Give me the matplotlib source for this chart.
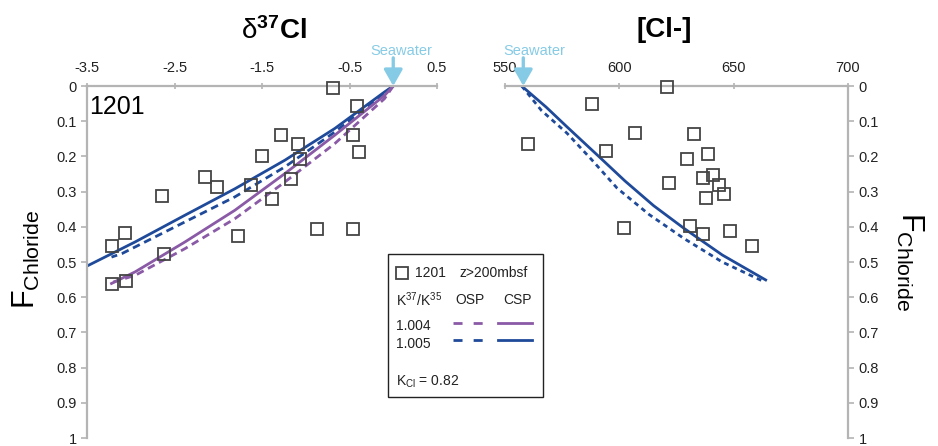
import matplotlib
matplotlib.use('Agg')
import matplotlib.pyplot as plt
from matplotlib.lines import Line2D
from matplotlib.patches import Rectangle

plt.rcParams['font.family'] = ['Liberation Sans', 'DejaVu Sans']
plt.rcParams['mathtext.fontset'] = 'custom'
plt.rcParams['mathtext.rm'] = 'Liberation Sans'
plt.rcParams['mathtext.bf'] = 'Liberation Sans:bold'
plt.rcParams['mathtext.it'] = 'Liberation Sans:italic'
plt.rcParams['axes.unicode_minus'] = False
plt.rcParams['lines.scale_dashes'] = False

# site 1201 pore water samples, z > 200 mbsf
d37cl = [-0.69, -0.41, -0.46, -0.39, -1.28, -1.09, -1.50, -1.07, -2.15, -2.01, -1.63,
         -1.17, -1.39, -2.64, -0.87, -0.46, -1.77, -3.07, -3.22, -2.62, -3.22, -3.06]
f_d37 = [0.006, 0.057, 0.138, 0.188, 0.138, 0.164, 0.199, 0.208, 0.259, 0.287, 0.282,
         0.263, 0.32, 0.313, 0.405, 0.405, 0.426, 0.417, 0.455, 0.478, 0.562, 0.555]

cl = [621.0, 588.2, 560.1, 594.3, 607.0, 632.5, 638.6, 629.8, 621.9, 636.8, 640.8,
      643.4, 645.6, 637.7, 602.2, 631.1, 636.8, 648.2, 657.9]
f_cl = [0.003, 0.051, 0.165, 0.184, 0.133, 0.136, 0.193, 0.208, 0.275, 0.262, 0.253,
        0.281, 0.307, 0.318, 0.404, 0.398, 0.42, 0.411, 0.454]

# model curves
csp5_x = [0, -0.10, -0.67, -1.24, -1.81, -2.38, -2.95, -3.52]
csp5_f = [0, 0.017, 0.121, 0.211, 0.292, 0.367, 0.443, 0.514]
osp5_x = [0, -0.10, -0.67, -1.24, -1.81, -2.38, -3.10, -3.22]
osp5_f = [0, 0.020, 0.131, 0.230, 0.315, 0.386, 0.476, 0.486]
csp4_x = [0, -0.10, -0.67, -1.24, -1.81, -2.38, -2.95, -3.22]
csp4_f = [0, 0.027, 0.140, 0.249, 0.353, 0.443, 0.528, 0.561]
osp4_x = [0, -0.10, -0.67, -1.24, -1.81, -2.38, -2.95, -3.20]
osp4_f = [0, 0.036, 0.164, 0.273, 0.377, 0.462, 0.538, 0.557]

csp_cl = [557.3, 568.0, 577.1, 591.0, 602.5, 615.0, 628.2, 645.0, 664.0]
csp_cl_f = [0, 0.06, 0.116, 0.20, 0.27, 0.34, 0.404, 0.48, 0.551]
osp_cl = [557.3, 566.0, 577.1, 588.0, 599.0, 613.0, 628.2, 645.0, 663.3]
osp_cl_f = [0, 0.07, 0.134, 0.21, 0.29, 0.365, 0.433, 0.50, 0.556]

seawater_d37 = 0.0
seawater_cl = 558.0

blue = '#1f4a9a'
purple = '#8a5aa6'
sky = '#86cbe6'
grey = '#b4b4b4'

W, H = 938, 446
fig = plt.figure(figsize=(W / 100, H / 100), dpi=100)
ax1 = fig.add_axes([87 / W, 1 - 438 / H, 350 / W, 352 / H])
ax2 = fig.add_axes([505 / W, 1 - 438 / H, 343 / W, 352 / H])

yt = [i / 10 for i in range(11)]
ylab = ['0', '0.1', '0.2', '0.3', '0.4', '0.5', '0.6', '0.7', '0.8', '0.9', '1']

for ax in (ax1, ax2):
    ax.set_ylim(1, 0)
    ax.set_yticks(yt)
    ax.set_yticklabels(ylab)
    ax.xaxis.tick_top()
    ax.spines['bottom'].set_visible(False)
    for s in ax.spines.values():
        s.set_color(grey)
        s.set_linewidth(1.6)
    ax.tick_params(axis='both', colors=grey, labelcolor='#222222', labelsize=10.5,
                   width=1.2, length=4)
    ax.tick_params(axis='x', direction='inout', pad=6)

ax1.spines['right'].set_visible(False)
ax2.spines['left'].set_visible(False)
ax2.yaxis.tick_right()

ax1.set_xlim(-3.5, 0.5)
ax1.set_xticks([-3.5, -2.5, -1.5, -0.5, 0.5])
ax1.set_xticklabels(['-3.5', '-2.5', '-1.5', '-0.5', '0.5'])
ax2.set_xlim(550, 700)
ax2.set_xticks([550, 600, 650, 700])

mk = dict(ls='none', marker='s', ms=8.5, mfc='none', mec='#444444', mew=1.3, clip_on=False, zorder=3)
ax1.plot(d37cl, f_d37, **mk)
ax2.plot(cl, f_cl, **mk)

ax1.plot(csp5_x, csp5_f, color=blue, lw=2)
ax1.plot(osp5_x, osp5_f, color=blue, lw=2, dashes=(5.5, 3.5))
ax1.plot(csp4_x, csp4_f, color=purple, lw=2)
ax1.plot(osp4_x, osp4_f, color=purple, lw=2, dashes=(5.5, 3.5))

ax2.plot(csp_cl, csp_cl_f, color=blue, lw=2)
ax2.plot(osp_cl, osp_cl_f, color=blue, lw=2, dashes=(3.5, 3))

arrow = dict(arrowstyle='-|>,head_length=0.7,head_width=0.4', color=sky, lw=2.4,
             shrinkA=0, shrinkB=0, mutation_scale=14)
ax1.annotate('', xy=(seawater_d37, 0), xytext=(seawater_d37, -0.08),
             arrowprops=arrow, annotation_clip=False)
ax1.text(seawater_d37 + 0.09, -0.099, 'Seawater', color=sky, fontsize=10.5,
         ha='center', va='center', clip_on=False)
ax2.annotate('', xy=(seawater_cl, 0), xytext=(seawater_cl, -0.08),
             arrowprops=arrow, annotation_clip=False)
ax2.text(seawater_cl + 4.7, -0.099, 'Seawater', color=sky, fontsize=10.5,
         ha='center', va='center', clip_on=False)

ax1.text(0.005, 0.94, '1201', transform=ax1.transAxes, fontsize=18, ha='left', va='center')

fig.text(274 / W, 1 - 31 / H, r'$\mathrm{δ}^{\mathbf{37}}\mathbf{Cl}$', fontsize=20,
         ha='center', va='center')
fig.text(664 / W, 1 - 30 / H, '[Cl-]', fontsize=20, fontweight='bold',
         ha='center', va='center')

fig.text(26 / W, 1 - 259 / H, r'$\mathrm{F}_{\mathrm{Chloride}}$', fontsize=22,
         rotation=90, ha='center', va='center')
fig.text(910 / W, 1 - 262 / H, r'$\mathrm{F}_{\mathrm{Chloride}}$', fontsize=22,
         rotation=-90, ha='center', va='center')

# legend box
def fx(px):
    return px / W


def fy(py):
    return 1 - py / H


fig.patches.append(Rectangle((fx(388), fy(397)), fx(543) - fx(388), fy(254) - fy(397),
                             transform=fig.transFigure, fill=False, ec='#222222', lw=1.0))
fig.lines.append(Line2D([fx(402)], [fy(273)], transform=fig.transFigure, ls='none',
                        marker='s', ms=8.5, mfc='none', mec='#444444', mew=1.3))
lt = dict(fontsize=10, va='center', color='#222222')
fig.text(fx(415), fy(273), '1201', ha='left', **lt)
fig.text(fx(459), fy(273), 'z>200mbsf', ha='left', **lt)
fig.text(fx(396), fy(300), r'K$^{37}$/K$^{35}$', ha='left', **lt)
fig.text(fx(470), fy(300), 'OSP', ha='center', **lt)
fig.text(fx(517), fy(300), 'CSP', ha='center', **lt)
fig.text(fx(396), fy(326), '1.004', ha='left', **lt)
fig.text(fx(396), fy(344), '1.005', ha='left', **lt)
fig.text(fx(396), fy(382), r'K$_{\mathrm{Cl}}$ = 0.82', ha='left', **lt)
for yy, col in ((323, purple), (340, blue)):
    fig.lines.append(Line2D([fx(453), fx(483)], [fy(yy), fy(yy)], transform=fig.transFigure,
                            color=col, lw=2, dashes=(6.5, 8)))
    fig.lines.append(Line2D([fx(498), fx(532)], [fy(yy), fy(yy)], transform=fig.transFigure,
                            color=col, lw=2))

fig.savefig('out.png', dpi=100)
